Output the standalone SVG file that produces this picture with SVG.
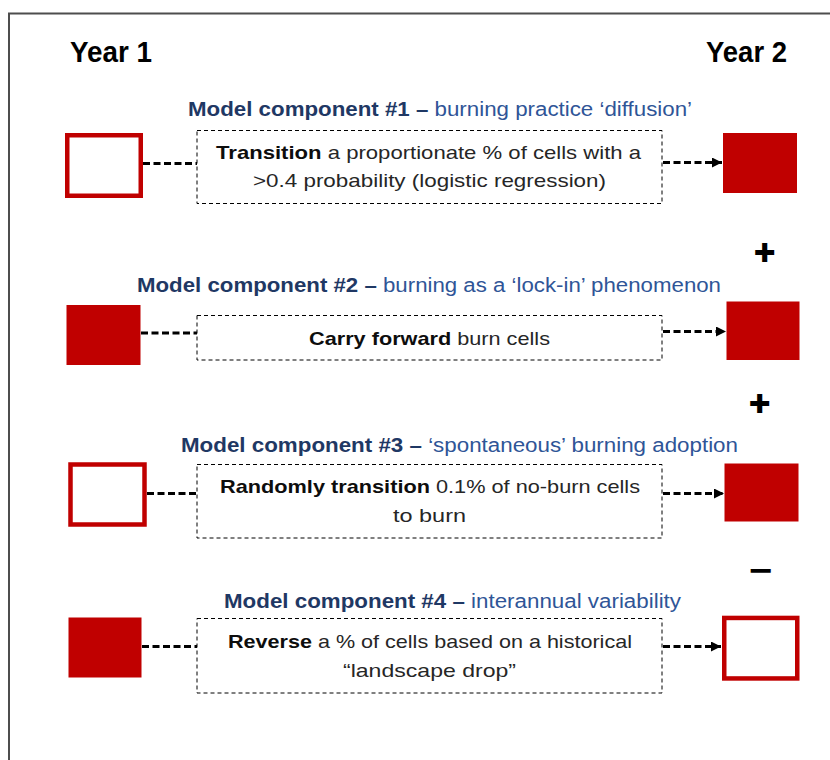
<svg xmlns="http://www.w3.org/2000/svg" width="830" height="760" viewBox="0 0 830 760">
  <defs>
    <marker id="arrow" viewBox="0 0 10 10" refX="10" refY="5" markerWidth="10" markerHeight="10" markerUnits="userSpaceOnUse" orient="auto">
      <path d="M0,0 L10,5 L0,10 Z" fill="#000"/>
    </marker>
    <style>
      .frame { fill: none; stroke: #4d4d4d; stroke-width: 2; }
      .year { font-family: "Liberation Sans", Arial, sans-serif; font-weight: bold; font-size: 29px; fill: #000; }
      .title { font-family: "Liberation Sans", Arial, sans-serif; font-size: 19.5px; fill: #2f5597; }
      .title .b { font-weight: bold; fill: #1f3864; }
      .body { font-family: "Liberation Sans", Arial, sans-serif; font-size: 19px; fill: #262626; }
      .body .b { font-weight: bold; fill: #0d0d0d; }
      .box { fill: #fff; stroke: #000; stroke-width: 1; stroke-dasharray: 4 3; }
      .burn { fill: #c00000; }
      .noburn { fill: #fff; stroke: #c00000; stroke-width: 4.5; }
      .link { fill: none; stroke: #000; stroke-width: 3; stroke-dasharray: 7 3.5; }
      .op { font-family: "DejaVu Sans", sans-serif; font-weight: bold; font-size: 26px; fill: #000; text-anchor: middle; }
      .minus { font-family: "DejaVu Sans", sans-serif; font-weight: bold; font-size: 32px; fill: #000; text-anchor: middle; }
    </style>
  </defs>

  <rect width="830" height="760" fill="#fff"/>
  <!-- outer frame, runs off the right and bottom edges -->
  <path class="frame" d="M9,770 L9,13.5 L840,13.5"/>

  <text class="year" x="70" y="61.5" textLength="82" lengthAdjust="spacingAndGlyphs">Year 1</text>
  <text class="year" x="706" y="61.5" textLength="81" lengthAdjust="spacingAndGlyphs">Year 2</text>

  <!-- component 1 -->
  <g id="comp1">
    <text class="title" x="188" y="116" textLength="504" lengthAdjust="spacingAndGlyphs"><tspan class="b">Model component #1 –</tspan> burning practice ‘diffusion’</text>
    <rect class="noburn" x="67.25" y="135.25" width="73.5" height="60.5"/>
    <rect class="box" x="197" y="130.5" width="465" height="73"/>
    <text class="body" x="216" y="158.5" textLength="425" lengthAdjust="spacingAndGlyphs"><tspan class="b">Transition</tspan> a proportionate % of cells with a</text>
    <text class="body" x="253" y="186.5" textLength="353" lengthAdjust="spacingAndGlyphs">&gt;0.4 probability (logistic regression)</text>
    <rect class="burn" x="723" y="133" width="74" height="60"/>
  </g>

  <text class="op" x="765" y="261.5">✚</text>

  <!-- component 2 -->
  <g id="comp2">
    <text class="title" x="137" y="292" textLength="584" lengthAdjust="spacingAndGlyphs"><tspan class="b">Model component #2 –</tspan> burning as a ‘lock-in’ phenomenon</text>
    <rect class="burn" x="66.5" y="305" width="74" height="60"/>
    <rect class="box" x="197" y="315.5" width="465" height="44.5"/>
    <text class="body" x="309" y="345" textLength="241" lengthAdjust="spacingAndGlyphs"><tspan class="b">Carry forward</tspan> burn cells</text>
    <rect class="burn" x="726.5" y="301.5" width="73" height="58.5"/>
  </g>

  <text class="op" x="760" y="412.5">✚</text>

  <!-- component 3 -->
  <g id="comp3">
    <text class="title" x="181" y="452" textLength="557" lengthAdjust="spacingAndGlyphs"><tspan class="b">Model component #3 –</tspan> ‘spontaneous’ burning adoption</text>
    <rect class="noburn" x="70.5" y="464.5" width="74" height="60"/>
    <rect class="box" x="197" y="464.5" width="465" height="73.5"/>
    <text class="body" x="220" y="493.3" textLength="420" lengthAdjust="spacingAndGlyphs"><tspan class="b">Randomly transition</tspan> 0.1% of no-burn cells</text>
    <text class="body" x="393" y="521.5" textLength="73" lengthAdjust="spacingAndGlyphs">to burn</text>
    <rect class="burn" x="724.5" y="463.5" width="74" height="58"/>
  </g>

  <text class="minus" x="761" y="580.5">−</text>

  <!-- component 4 -->
  <g id="comp4">
    <text class="title" x="224" y="608" textLength="457" lengthAdjust="spacingAndGlyphs"><tspan class="b">Model component #4 –</tspan> interannual variability</text>
    <rect class="burn" x="68.5" y="617.5" width="73" height="60"/>
    <rect class="box" x="197" y="618.5" width="465" height="74.5"/>
    <text class="body" x="228" y="648.3" textLength="404" lengthAdjust="spacingAndGlyphs"><tspan class="b">Reverse</tspan> a % of cells based on a historical</text>
    <text class="body" x="343" y="676.5" textLength="173" lengthAdjust="spacingAndGlyphs">“landscape drop”</text>
    <rect class="noburn" x="724.25" y="617.95" width="73" height="60.5"/>
  </g>

  <!-- connectors -->
  <g id="connectors">
    <line class="link" x1="143" y1="163.5" x2="197" y2="163.5"/>
    <line class="link" x1="663" y1="162.5" x2="722" y2="162.5" marker-end="url(#arrow)"/>
    <line class="link" x1="141" y1="333" x2="197" y2="333"/>
    <line class="link" x1="663" y1="331.5" x2="726" y2="331.5" marker-end="url(#arrow)"/>
    <line class="link" x1="147" y1="493.5" x2="197" y2="493.5"/>
    <line class="link" x1="663" y1="493.5" x2="724" y2="493.5" marker-end="url(#arrow)"/>
    <line class="link" x1="142" y1="646.5" x2="197" y2="646.5"/>
    <line class="link" x1="663" y1="646.5" x2="721" y2="646.5" marker-end="url(#arrow)"/>
  </g>
</svg>
